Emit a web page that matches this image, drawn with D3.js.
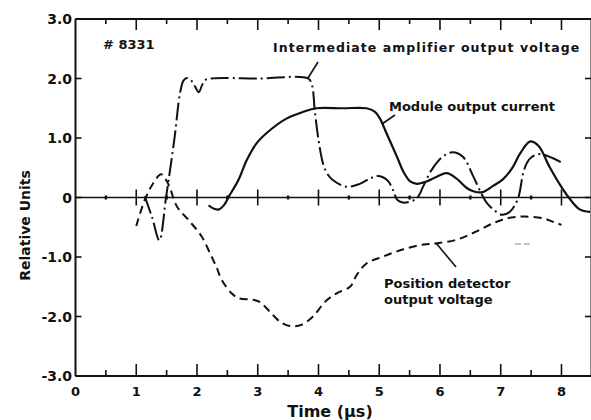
<!DOCTYPE html>
<html>
<head>
<meta charset="utf-8">
<script src="https://cdn.jsdelivr.net/npm/d3@7"></script>
<style>
  html, body { margin: 0; padding: 0; background: #fff; }
  svg { display: block; }
  text { font-family: "DejaVu Sans", sans-serif; fill: #111; }
</style>
</head>
<body>
<svg id="chart" width="591" height="420"></svg>
<script>
// Time axis (µs) and relative-unit axis
const xTickValues = [0, 1, 2, 3, 4, 5, 6, 7, 8];
const yTickValues = [-3, -2, -1, 0, 1, 2, 3];
const yTickLabels = ["-3.0", "-2.0", "-1.0", "0", "1.0", "2.0", "3.0"];

// Module output current (solid)
const moduleCurrent = [
  [2.19,-0.13],[2.28,-0.19],[2.36,-0.20],[2.45,-0.12],[2.52,0.01],[2.68,0.29],[2.82,0.63],
  [2.98,0.91],[3.20,1.13],[3.48,1.33],[3.75,1.44],[3.96,1.50],[4.40,1.50],[4.79,1.50],
  [4.93,1.44],[5.01,1.33],[5.12,1.08],[5.29,0.69],[5.40,0.43],[5.51,0.27],[5.62,0.23],
  [5.78,0.27],[5.95,0.35],[6.11,0.41],[6.27,0.32],[6.44,0.16],[6.56,0.10],[6.70,0.09],
  [6.88,0.20],[7.03,0.30],[7.18,0.48],[7.32,0.74],[7.48,0.94],[7.62,0.87],[7.80,0.52],
  [7.96,0.24],[8.12,0.00],[8.30,-0.20],[8.47,-0.24]
];

// Intermediate amplifier output voltage (dash-dot)
const ampVoltage = [
  [1.14,0.02],[1.26,-0.33],[1.38,-0.72],[1.49,0.00],[1.63,1.00],[1.72,1.75],[1.78,1.97],
  [1.84,2.01],[1.92,1.95],[1.97,1.86],[2.03,1.77],[2.08,1.88],[2.13,1.97],[2.24,2.00],
  [3.00,2.00],[3.83,2.00],[3.89,1.90],[3.94,1.45],[4.00,0.97],[4.08,0.55],[4.15,0.39],
  [4.24,0.29],[4.46,0.18],[4.68,0.23],[4.85,0.32],[4.96,0.36],[5.06,0.34],[5.15,0.27],
  [5.23,0.12],[5.29,-0.03],[5.37,-0.08],[5.47,-0.08],[5.62,-0.01],[5.73,0.20],[5.86,0.46],
  [6.05,0.69],[6.21,0.76],[6.38,0.68],[6.55,0.35],[6.67,0.09],[6.77,-0.09],[6.90,-0.22],
  [7.02,-0.29],[7.15,-0.24],[7.28,-0.03],[7.37,0.41],[7.43,0.58],[7.51,0.68],[7.65,0.73],
  [7.86,0.66],[8.03,0.57]
];

// Position detector output voltage (dashed)
const positionVoltage = [
  [1.00,-0.48],[1.14,-0.04],[1.28,0.24],[1.41,0.39],[1.53,0.22],[1.67,-0.15],[1.88,-0.40],
  [2.08,-0.66],[2.22,-0.95],[2.32,-1.17],[2.41,-1.39],[2.57,-1.61],[2.68,-1.69],[2.93,-1.72],
  [3.04,-1.76],[3.20,-1.92],[3.37,-2.09],[3.53,-2.16],[3.72,-2.14],[3.91,-2.00],[4.11,-1.75],
  [4.30,-1.61],[4.52,-1.50],[4.63,-1.30],[4.79,-1.11],[5.07,-0.99],[5.40,-0.87],[5.73,-0.79],
  [5.95,-0.77],[6.27,-0.71],[6.60,-0.57],[6.88,-0.43],[7.10,-0.35],[7.37,-0.32],[7.70,-0.35],
  [7.87,-0.41],[8.00,-0.46]
];

const svg = d3.select("#chart");
const x = d3.scaleLinear().domain([0, 8.486]).range([75.5, 591]);
const y = d3.scaleLinear().domain([-3, 3]).range([376, 19]);

const ink = "#111";

// Frame: left, top and bottom sides (right side sits at the page edge)
const frame = svg.append("g").attr("stroke", ink).attr("fill", "none");
frame.append("line").attr("x1", x(0)).attr("x2", x(0)).attr("y1", y(3)).attr("y2", y(-3)).attr("stroke-width", 2);
frame.append("line").attr("x1", x(0)).attr("x2", 591).attr("y1", y(3)).attr("y2", y(3)).attr("stroke-width", 2);
frame.append("line").attr("x1", x(0)).attr("x2", 591).attr("y1", y(-3)).attr("y2", y(-3)).attr("stroke-width", 2);
frame.append("line").attr("x1", 591.5).attr("x2", 591.5).attr("y1", y(3)).attr("y2", y(-3)).attr("stroke-width", 2);

// Zero line across the plot
frame.append("line").attr("x1", x(0)).attr("x2", 591).attr("y1", y(0)).attr("y2", y(0)).attr("stroke-width", 1.6);

// Tick marks on x: integers long, halves short
const halfTicks = d3.range(0.5, 8.5, 1);
const intTicks = xTickValues.filter(v => v > 0);

const tk = svg.append("g").attr("stroke", ink).attr("stroke-width", 1.6);
// bottom axis (inward, upward)
tk.selectAll(".bMaj").data(intTicks).join("line")
  .attr("x1", d => x(d)).attr("x2", d => x(d)).attr("y1", y(-3)).attr("y2", y(-3) - 12);
tk.selectAll(".bMin").data(halfTicks).join("line")
  .attr("x1", d => x(d)).attr("x2", d => x(d)).attr("y1", y(-3)).attr("y2", y(-3) - 6);
// top axis (inward, downward)
tk.selectAll(".tMaj").data(intTicks).join("line")
  .attr("x1", d => x(d)).attr("x2", d => x(d)).attr("y1", y(3)).attr("y2", y(3) + 11);
tk.selectAll(".tMin").data(halfTicks).join("line")
  .attr("x1", d => x(d)).attr("x2", d => x(d)).attr("y1", y(3)).attr("y2", y(3) + 5);
// zero line (crossing)
tk.selectAll(".zMaj").data(intTicks).join("line")
  .attr("x1", d => x(d)).attr("x2", d => x(d)).attr("y1", y(0) - 8).attr("y2", y(0) + 8);
tk.selectAll(".zMin").data(halfTicks).join("line")
  .attr("x1", d => x(d)).attr("x2", d => x(d)).attr("y1", y(0) - 2).attr("y2", y(0) + 2)
  .attr("stroke-width", 2.4);
// left axis (inward) and right axis (inward)
tk.selectAll(".lTick").data(yTickValues).join("line")
  .attr("x1", x(0)).attr("x2", x(0) + 6).attr("y1", d => y(d)).attr("y2", d => y(d));
tk.selectAll(".rTick").data(yTickValues).join("line")
  .attr("x1", 591).attr("x2", 585).attr("y1", d => y(d)).attr("y2", d => y(d));

// Tick labels
svg.append("g").selectAll("text").data(yTickValues).join("text")
  .attr("x", 72).attr("y", d => y(d) + 5)
  .attr("text-anchor", "end")
  .style("font-size", "14px").style("font-weight", "bold")
  .text((d, i) => yTickLabels[i]);

svg.append("g").selectAll("text").data(xTickValues).join("text")
  .attr("x", d => x(d)).attr("y", 395.5)
  .attr("text-anchor", "middle")
  .style("font-size", "13px").style("font-weight", "bold")
  .text(d => d);

// Axis titles
svg.append("text").attr("x", 330).attr("y", 416.5).attr("text-anchor", "middle")
  .style("font-size", "16px").style("font-weight", "bold").text("Time (\u03bcs)");
svg.append("text").attr("transform", "translate(30,225.5) rotate(-90)").attr("text-anchor", "middle")
  .style("font-size", "14px").style("font-weight", "bold").text("Relative Units");

// Shot number
svg.append("text").attr("x", 103).attr("y", 49)
  .style("font-size", "13px").style("font-weight", "bold").text("# 8331");

// Curves
const line = d3.line().x(d => x(d[0])).y(d => y(d[1])).curve(d3.curveCatmullRom.alpha(0.5));
const curves = svg.append("g").attr("fill", "none").attr("stroke", ink).attr("stroke-linecap", "butt");
curves.append("path").datum(moduleCurrent).attr("d", line).attr("stroke-width", 2.2);
curves.append("path").datum(ampVoltage).attr("d", line).attr("stroke-width", 2)
  .attr("stroke-dasharray", "18,4,2,4");
curves.append("path").datum(positionVoltage).attr("d", line).attr("stroke-width", 2)
  .attr("stroke-dasharray", "8,5");

// Curve labels with leader lines
const lbl = svg.append("g");
lbl.append("text").attr("x", 273).attr("y", 52)
  .style("font-size", "12.5px").style("font-weight", "bold").style("letter-spacing", "1.05px")
  .text("Intermediate amplifier output voltage");
lbl.append("text").attr("x", 389).attr("y", 111)
  .style("font-size", "13px").style("font-weight", "bold")
  .text("Module output current");
lbl.append("text").attr("x", 384).attr("y", 288)
  .style("font-size", "13px").style("font-weight", "bold")
  .text("Position detector");
lbl.append("text").attr("x", 384).attr("y", 304)
  .style("font-size", "13px").style("font-weight", "bold")
  .text("output voltage");

const leaders = svg.append("g").attr("stroke", ink).attr("stroke-width", 1.6);
leaders.append("line").attr("x1", 318).attr("y1", 62).attr("x2", 308).attr("y2", 78);
leaders.append("line").attr("x1", 395).attr("y1", 115).attr("x2", 382).attr("y2", 124);
leaders.append("line").attr("x1", 436).attr("y1", 243).attr("x2", 456).attr("y2", 267);

// Faint trace fragment below the right-hand curves
svg.append("line").attr("x1", 515).attr("x2", 533).attr("y1", 244).attr("y2", 244)
  .attr("stroke", "#888").attr("stroke-width", 1).attr("stroke-dasharray", "6,3");
</script>
</body>
</html>
